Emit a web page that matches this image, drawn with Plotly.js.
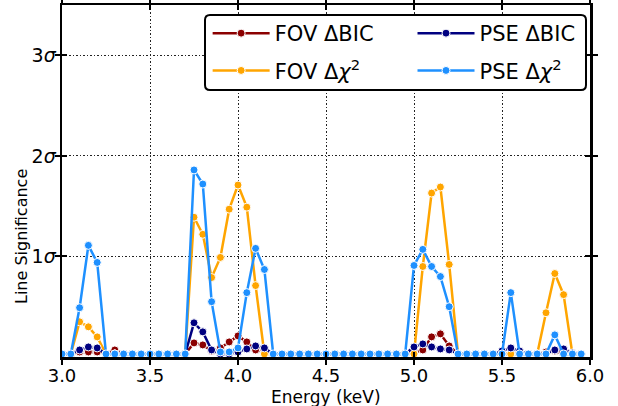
<!DOCTYPE html>
<html>
<head>
<meta charset="utf-8">
<script src="https://cdn.plot.ly/plotly-3.0.1.min.js"></script>
<style>html,body{margin:0;padding:0;background:#fff;}#chart{width:618px;height:406px;}</style>
</head>
<body>
<div id="chart"></div>
<script>
// Energy grid (keV)
const energy = [3.00,3.05,3.10,3.15,3.20,3.25,3.30,3.35,3.40,3.45,3.50,3.55,3.60,3.65,3.70,3.75,3.80,3.85,3.90,3.95,
                4.00,4.05,4.10,4.15,4.20,4.25,4.30,4.35,4.40,4.45,4.50,4.55,4.60,4.65,4.70,4.75,4.80,4.85,4.90,4.95,
                5.00,5.05,5.10,5.15,5.20,5.25,5.30,5.35,5.40,5.45,5.50,5.55,5.60,5.65,5.70,5.75,5.80,5.85,5.90,5.95];

const fovBIC = [0.03,0.03,0.05,0.05,0.05,0.03,0.07,0.03,0.03,0.03,0.03,0.03,0.03,0.03,0.03,0.14,0.12,0.06,0.09,0.15,
                0.21,0.15,0.07,0.05,0.03,0.03,0.03,0.03,0.03,0.03,0.03,0.03,0.03,0.03,0.03,0.03,0.03,0.03,0.03,0.03,
                0.04,0.07,0.20,0.23,0.11,0.03,0.03,0.03,0.03,0.03,0.03,0.03,0.03,0.03,0.03,0.05,0.06,0.03,0.03,0.03];

const fovChi2 = [0.03,0.03,0.35,0.30,0.20,0.03,0.03,0.03,0.03,0.03,0.03,0.03,0.03,0.03,0.03,1.39,1.22,0.79,0.99,1.47,
                 1.71,1.49,0.71,0.03,0.03,0.03,0.03,0.03,0.03,0.03,0.03,0.03,0.03,0.03,0.03,0.03,0.03,0.03,0.03,0.03,
                 0.03,0.90,1.63,1.69,0.92,0.03,0.03,0.03,0.03,0.03,0.03,0.03,0.03,0.03,0.03,0.44,0.83,0.62,0.03,0.03];

const pseBIC = [0.03,0.03,0.07,0.10,0.09,0.03,0.03,0.03,0.03,0.03,0.03,0.03,0.03,0.03,0.03,0.34,0.25,0.07,0.03,0.03,
                0.05,0.08,0.11,0.09,0.03,0.03,0.03,0.03,0.03,0.03,0.03,0.03,0.03,0.03,0.03,0.03,0.03,0.03,0.03,0.03,
                0.10,0.13,0.10,0.08,0.07,0.03,0.03,0.03,0.03,0.03,0.06,0.09,0.06,0.03,0.03,0.03,0.07,0.08,0.04,0.03];

const pseChi2 = [0.03,0.03,0.49,1.11,0.94,0.03,0.03,0.03,0.03,0.03,0.03,0.03,0.03,0.03,0.03,1.86,1.72,0.55,0.05,0.05,
                 0.09,0.64,1.08,0.87,0.03,0.03,0.03,0.03,0.03,0.03,0.03,0.03,0.03,0.03,0.03,0.03,0.03,0.03,0.03,0.03,
                 0.91,1.07,0.90,0.80,0.50,0.03,0.03,0.03,0.03,0.03,0.03,0.64,0.03,0.03,0.03,0.03,0.22,0.03,0.03,0.03];

const seriesNames = ['FOV ΔBIC', 'FOV Δ<i>χ</i><sup>2</sup>', 'PSE ΔBIC', 'PSE Δ<i>χ</i><sup>2</sup>'];
const xTicks = [3.0, 3.5, 4.0, 4.5, 5.0, 5.5, 6.0];
const xTickText = ['3.0', '3.5', '4.0', '4.5', '5.0', '5.5', '6.0'];
const yTicks = [1, 2, 3];
const yTickText = ['1<i>σ</i>', '2<i>σ</i>', '3<i>σ</i>'];
const xTitle = 'Energy (keV)';
const yTitle = 'Line Significance';

const colors = ['#8B0000', '#FFA500', '#000080', '#1E90FF'];
const legends = ['legend', 'legend', 'legend2', 'legend2'];
const ys = [fovBIC, fovChi2, pseBIC, pseChi2];

const traces = ys.map((y, i) => ({
  x: energy, y: y, type: 'scatter', mode: 'lines+markers',
  name: seriesNames[i], legend: legends[i], legendgroup: 'g' + i,
  line: {color: colors[i], width: 2.5},
  marker: {color: colors[i], size: 8, line: {color: 'white', width: 1}},
  hoverinfo: 'skip'
}));
// overlay axes for the inward half of the ticks
traces.push({x: [], y: [], xaxis: 'x2', yaxis: 'y2', showlegend: false, hoverinfo: 'skip', type: 'scatter'});

const font = {family: 'DejaVu Sans, sans-serif', color: '#000'};
const axBase = {showline: true, linecolor: '#000', linewidth: 2.5, mirror: 'allticks', zeroline: false,
                tickcolor: '#000', tickwidth: 2, ticklen: 5};

const px = 528, py = 352;
const bx0 = (205 - 62) / px, bx1 = (586 - 62) / px, by1 = (357 - 15) / py, by0 = (357 - 90) / py;
const rx = 5 / px, ry = 5 / py;
const boxPath = `M ${bx0 + rx} ${by0} L ${bx1 - rx} ${by0} Q ${bx1} ${by0} ${bx1} ${by0 + ry} L ${bx1} ${by1 - ry} Q ${bx1} ${by1} ${bx1 - rx} ${by1} L ${bx0 + rx} ${by1} Q ${bx0} ${by1} ${bx0} ${by1 - ry} L ${bx0} ${by0 + ry} Q ${bx0} ${by0} ${bx0 + rx} ${by0} Z`;

const gridDash = '1.5px,2px';

const layout = {
  width: 618, height: 406,
  margin: {l: 62, r: 28, t: 5, b: 49},
  paper_bgcolor: '#fff', plot_bgcolor: '#fff',
  font: Object.assign({size: 17}, font),
  showlegend: true,
  xaxis: Object.assign({}, axBase, {
    range: [3.0, 6.0], tickvals: xTicks, ticktext: xTickText, ticks: 'outside',
    showgrid: true, gridcolor: '#222', gridwidth: 1, griddash: gridDash,
    tickfont: {size: 18}, ticklabelstandoff: -4
  }),
  yaxis: Object.assign({}, axBase, {
    range: [0, 3.5], tickvals: yTicks, ticktext: yTickText, ticks: 'outside',
    showgrid: true, gridcolor: '#222', gridwidth: 1, griddash: gridDash,
    tickfont: {size: 19}, ticklabelstandoff: -5
  }),
  xaxis2: Object.assign({}, axBase, {range: [3.0, 6.0], tickvals: xTicks, ticks: 'inside', showticklabels: false,
    showgrid: false, overlaying: 'x', anchor: 'y2'}),
  yaxis2: Object.assign({}, axBase, {range: [0, 3.5], tickvals: yTicks, ticks: 'inside', showticklabels: false,
    showgrid: false, overlaying: 'y', anchor: 'x2'}),
  annotations: [
    {text: yTitle, xref: 'paper', yref: 'paper', x: (21 - 62) / px, y: (357 - 237) / py,
     xanchor: 'center', yanchor: 'middle', textangle: -90, showarrow: false, font: {size: 16}},
    {text: xTitle, xref: 'paper', yref: 'paper', x: 0.5, y: (357 - 397) / py,
     xanchor: 'center', yanchor: 'middle', showarrow: false, font: {size: 17}}
  ],
  shapes: [{type: 'path', xref: 'paper', yref: 'paper', path: boxPath,
            fillcolor: '#fff', line: {color: '#000', width: 2}, layer: 'above'}],
  legend: {x: bx0 + 0.005, y: (357 - 13) / py, xanchor: 'left', yanchor: 'top', bgcolor: 'rgba(0,0,0,0)',
           borderwidth: 0, font: {size: 21}, traceorder: 'grouped', tracegroupgap: 7, itemwidth: 57},
  legend2: {x: bx0 + 0.393, y: (357 - 13) / py, xanchor: 'left', yanchor: 'top', bgcolor: 'rgba(0,0,0,0)',
           borderwidth: 0, font: {size: 21}, traceorder: 'grouped', tracegroupgap: 7, itemwidth: 57}
};

Plotly.newPlot('chart', traces, layout, {displayModeBar: false, staticPlot: true});
</script>
</body>
</html>
